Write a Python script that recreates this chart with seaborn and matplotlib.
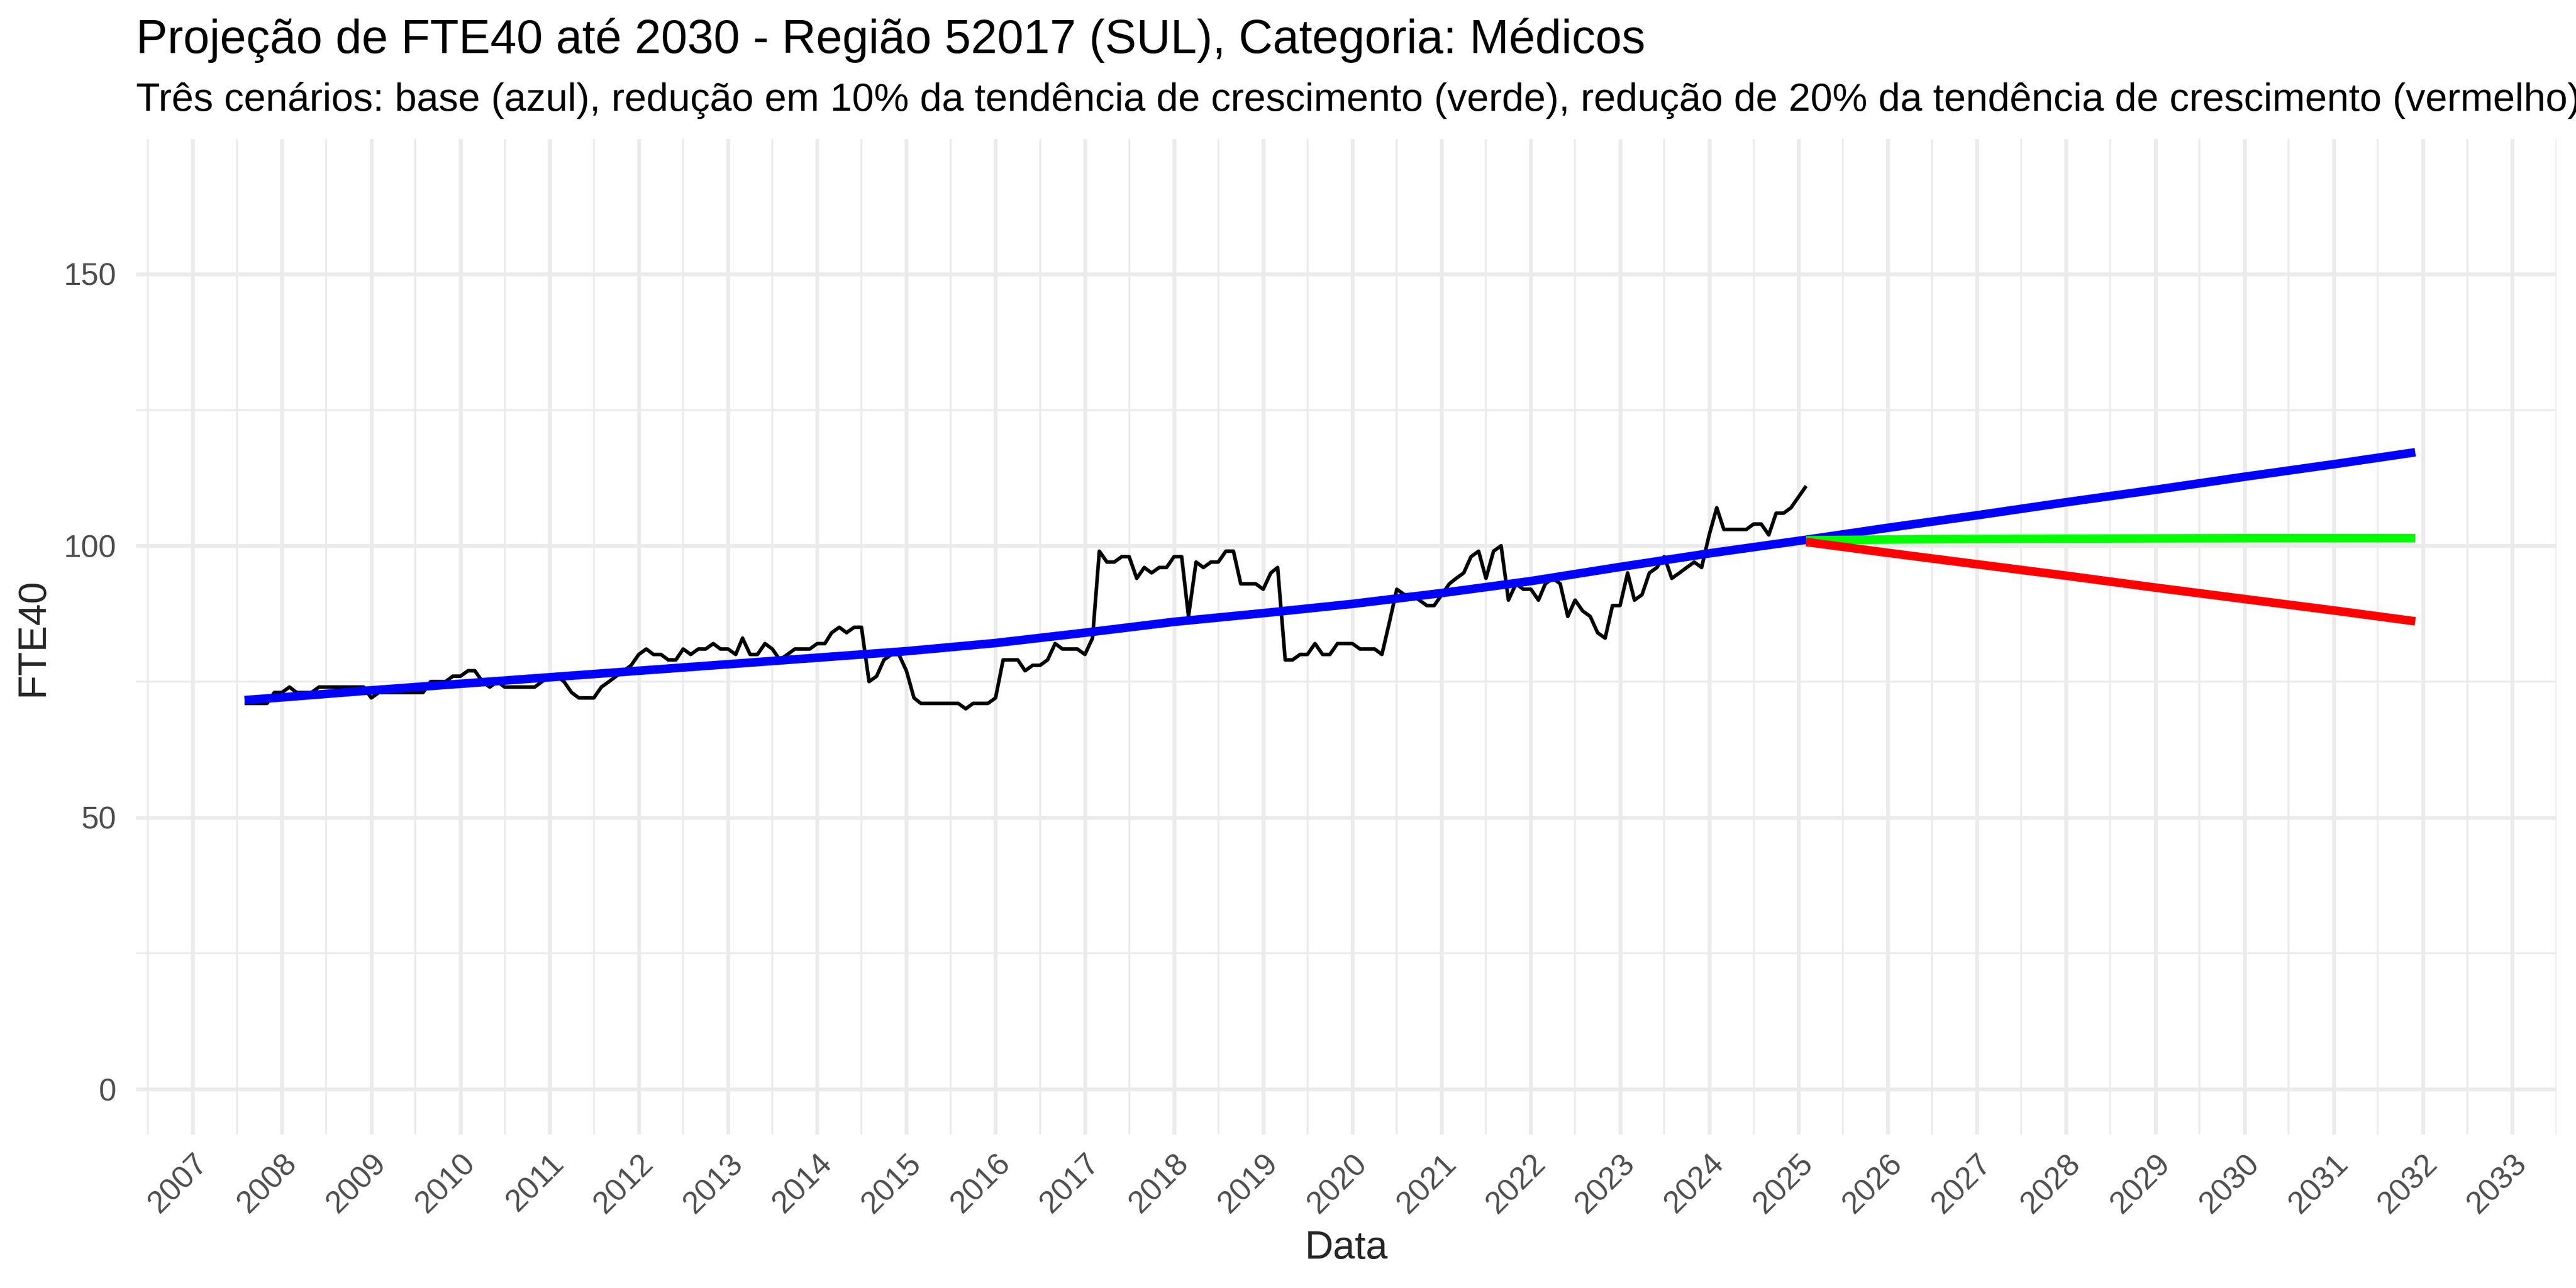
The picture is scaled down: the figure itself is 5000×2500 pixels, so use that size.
import matplotlib
matplotlib.use("Agg")
import matplotlib.pyplot as plt
import matplotlib.dates as mdates
import numpy as np
import pandas as pd
import seaborn as sns

obs_start = "2007-08-01"
obs_fte = [
    71, 71, 71, 71, 73,                                   # 2007
    73, 74, 73, 73, 73, 74, 74, 74, 74, 74, 74, 74,       # 2008
    72, 73, 73, 73, 73, 73, 73, 73, 75, 75, 75, 76,       # 2009
    76, 77, 77, 75, 74, 75, 74, 74, 74, 74, 74, 75,       # 2010
    76, 76, 75, 73, 72, 72, 72, 74, 75, 76, 77, 78,       # 2011
    80, 81, 80, 80, 79, 79, 81, 80, 81, 81, 82, 81,       # 2012
    81, 80, 83, 80, 80, 82, 81, 79, 80, 81, 81, 81,       # 2013
    82, 82, 84, 85, 84, 85, 85, 75, 76, 79, 80, 80,       # 2014
    77, 72, 71, 71, 71, 71, 71, 71, 70, 71, 71, 71,       # 2015
    72, 79, 79, 79, 77, 78, 78, 79, 82, 81, 81, 81,       # 2016
    80, 83, 99, 97, 97, 98, 98, 94, 96, 95, 96, 96,       # 2017
    98, 98, 87, 97, 96, 97, 97, 99, 99, 93, 93, 93,       # 2018
    92, 95, 96, 79, 79, 80, 80, 82, 80, 80, 82, 82,       # 2019
    82, 81, 81, 81, 80, 86, 92, 91, 91, 90, 89, 89,       # 2020
    91, 93, 94, 95, 98, 99, 94, 99, 100, 90, 93, 92,      # 2021
    92, 90, 93, 94, 93, 87, 90, 88, 87, 84, 83, 89,       # 2022
    89, 95, 90, 91, 95, 96, 98, 94, 95, 96, 97, 96,       # 2023
    102, 107, 103, 103, 103, 103, 104, 104, 102, 106, 106, 107,  # 2024
    109, 111,                                             # 2025
]

# Base scenario: fitted trend + projection (blue)
base_dates = ["2007-08-01", "2008-01-01", "2009-01-01", "2010-01-01", "2011-01-01",
              "2012-01-01", "2013-01-01", "2014-01-01", "2015-01-01", "2016-01-01",
              "2017-01-01", "2018-01-01", "2019-01-01", "2020-01-01", "2021-01-01",
              "2022-01-01", "2023-01-01", "2024-01-01", "2025-02-01", "2026-01-01",
              "2027-01-01", "2028-01-01", "2029-01-01", "2030-01-01", "2031-01-01",
              "2031-12-01"]
base_fte = [71.6, 72.1, 73.4, 74.6, 75.8, 77.0, 78.2, 79.4, 80.6, 82.1,
            84.0, 86.0, 87.6, 89.3, 91.3, 93.5, 96.1, 98.6, 101.1, 103.3,
            105.6, 108.0, 110.3, 112.7, 115.0, 117.2]

# Reduced-growth scenarios (projection only)
proj_dates = ["2025-02-01", "2026-01-01", "2027-01-01", "2028-01-01", "2029-01-01",
              "2030-01-01", "2031-01-01", "2031-12-01"]
green_fte = [101.0, 101.15, 101.25, 101.3, 101.35, 101.4, 101.4, 101.4]
red_fte = [100.7, 98.7, 96.6, 94.5, 92.3, 90.2, 88.1, 86.1]

years = list(range(2007, 2034))

obs = pd.DataFrame({"date": pd.date_range(obs_start, periods=len(obs_fte), freq="MS"),
                    "fte": obs_fte})
base = pd.DataFrame({"date": pd.to_datetime(base_dates), "fte": base_fte})
green = pd.DataFrame({"date": pd.to_datetime(proj_dates), "fte": green_fte})
red = pd.DataFrame({"date": pd.to_datetime(proj_dates), "fte": red_fte})

sns.set_theme(style="white")
plt.rcParams["font.family"] = ["Liberation Sans", "DejaVu Sans"]

W, H = 5000, 2500
fig = plt.figure(figsize=(10, 5), dpi=500)
fig.patch.set_facecolor("white")
left, right, top, bottom = 264, 4962, 270, 2202
ax = fig.add_axes([left / W, 1 - bottom / H, (right - left) / W, (bottom - top) / H])

sns.lineplot(data=obs, x="date", y="fte", color="black", linewidth=1.0,
             estimator=None, ax=ax)
for df, col in [(base, "#0000FF"), (green, "#00FF00"), (red, "#FF0000")]:
    sns.lineplot(data=df, x="date", y="fte", color=col, linewidth=2.4,
                 estimator=None, ax=ax)
for ln in ax.get_lines():
    ln.set_solid_capstyle("butt")

# ggplot-like 5% expansion
xmin = mdates.date2num(obs["date"].min())
xmax = mdates.date2num(base["date"].max())
span = xmax - xmin
ax.set_xlim(xmin - 0.05 * span, xmax + 0.05 * span)
ymax = max(obs_fte) * 1.5
ax.set_ylim(-0.05 * ymax, ymax * 1.05)

ax.set_yticks([0, 50, 100, 150])
ax.set_yticks([25, 75, 125], minor=True)
ax.set_xticks(mdates.date2num(pd.to_datetime([f"{y}-01-01" for y in years])))
ax.set_xticklabels([str(y) for y in years], rotation=45, ha="right", va="top",
                   rotation_mode="anchor")
ax.set_xticks(mdates.date2num(pd.to_datetime([f"{y}-07-01" for y in range(2006, 2034)])),
              minor=True)

ax.grid(which="major", color="#EBEBEB", linewidth=1.07)
ax.grid(which="minor", color="#EBEBEB", linewidth=0.53)
ax.set_axisbelow(True)
for s in ax.spines.values():
    s.set_visible(False)
ax.tick_params(which="both", length=0, labelsize=8.8, labelcolor="#4D4D4D")
ax.tick_params(axis="y", pad=5.5)
ax.tick_params(axis="x", pad=4)
ax.set_xlabel("")
ax.set_ylabel("")

fig.text(left / W, 1 - 103 / H,
         "Projeção de FTE40 até 2030 - Região 52017 (SUL), Categoria: Médicos",
         fontsize=13.2, color="black", ha="left", va="baseline")
fig.text(left / W, 1 - 215 / H,
         "Três cenários: base (azul), redução em 10% da tendência de crescimento (verde), "
         "redução de 20% da tendência de crescimento (vermelho)",
         fontsize=11, color="black", ha="left", va="baseline")
fig.text(64 / W, 1 - (top + bottom) / 2 / H, "FTE40", fontsize=11, rotation=90,
         ha="center", va="center")
fig.text((left + right) / 2 / W, 1 - 2424 / H, "Data", fontsize=11,
         ha="center", va="center")

fig.savefig("out.png", dpi=500, facecolor="white")
